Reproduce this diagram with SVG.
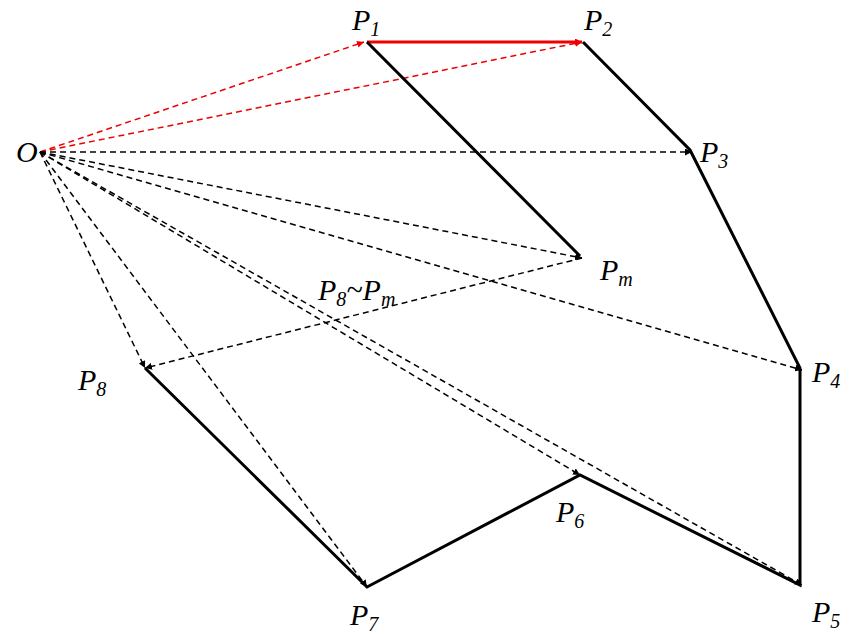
<svg xmlns="http://www.w3.org/2000/svg" width="850" height="636" viewBox="0 0 850 636">
<style>
.l{font-family:"Liberation Serif",serif;font-style:italic;font-size:30px;fill:#000}
.s{font-size:20px}
.d{stroke:#000;stroke-width:1.5;stroke-dasharray:6,4;fill:none;marker-end:url(#ak)}
.r{stroke:#e00;stroke-width:1.5;stroke-dasharray:6,4;fill:none;marker-end:url(#ar)}
</style>
<defs>
<marker id="ak" viewBox="0 0 10 10" refX="10" refY="5" markerWidth="7" markerHeight="7" markerUnits="userSpaceOnUse" orient="auto"><path d="M0,0L10,5L0,10z" fill="#000"/></marker>
<marker id="ar" viewBox="0 0 10 10" refX="10" refY="5" markerWidth="7" markerHeight="7" markerUnits="userSpaceOnUse" orient="auto"><path d="M0,0L10,5L0,10z" fill="#e00"/></marker>
</defs>
<rect width="850" height="636" fill="#fff"/>
<g id="connectors">
<path class="r" d="M40,152L364,42"/>
<path class="r" d="M40,152L582,42"/>
<path d="M367,42L582,42" stroke="#e00" stroke-width="3" marker-end="url(#ar)"/>
<path d="M367,42L580,256" stroke="#000" stroke-width="3"/>
<path d="M583,42L690,150L800,368L800,585L580,475L367,587L145,368" stroke="#000" stroke-width="3" fill="none"/>
<path class="d" d="M40,152L692,152"/>
<path class="d" d="M40,152L582,258"/>
<path class="d" d="M40,152L802,370"/>
<path class="d" d="M40,152L802,585"/>
<path class="d" d="M40,152L580,475"/>
<path class="d" d="M40,152L367,587"/>
<path class="d" d="M40,152L145,368"/>
<path class="d" d="M582,258L145,368"/>
</g>
<g id="O"><text class="l" x="16" y="162">O</text></g>
<g id="P1"><text class="l" x="352" y="30">P<tspan class="s" dy="6">1</tspan></text></g>
<g id="P2"><text class="l" x="584" y="30">P<tspan class="s" dy="6">2</tspan></text></g>
<g id="P3"><text class="l" x="700" y="162">P<tspan class="s" dy="6">3</tspan></text></g>
<g id="Pm"><text class="l" x="600" y="280">P<tspan class="s" dy="6">m</tspan></text></g>
<g id="P8Pm"><text class="l" x="318" y="300">P<tspan class="s" dy="6">8</tspan><tspan dy="-6">~P</tspan><tspan class="s" dy="6">m</tspan></text></g>
<g id="P4"><text class="l" x="812" y="382">P<tspan class="s" dy="6">4</tspan></text></g>
<g id="P8"><text class="l" x="78" y="390">P<tspan class="s" dy="6">8</tspan></text></g>
<g id="P6"><text class="l" x="556" y="522">P<tspan class="s" dy="6">6</tspan></text></g>
<g id="P7"><text class="l" x="350" y="625">P<tspan class="s" dy="6">7</tspan></text></g>
<g id="P5"><text class="l" x="812" y="622">P<tspan class="s" dy="6">5</tspan></text></g>
</svg>
